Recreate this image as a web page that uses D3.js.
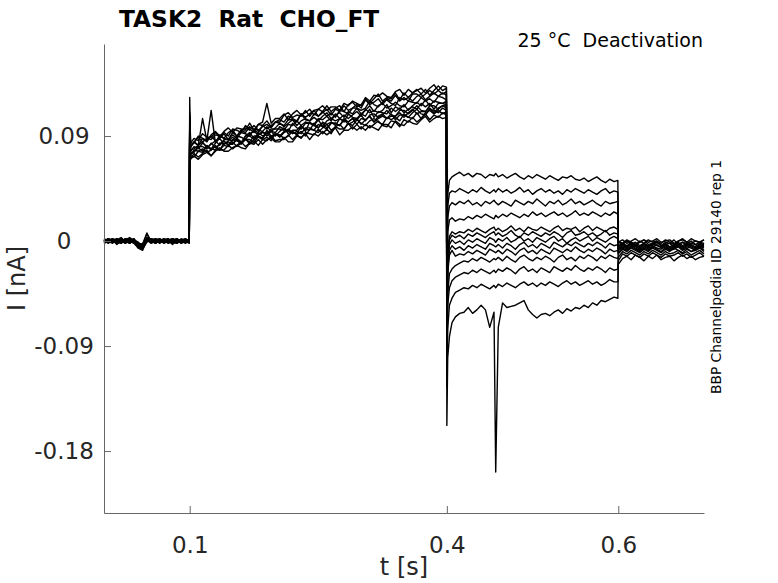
<!DOCTYPE html>
<html>
<head>
<meta charset="utf-8">
<script src="https://cdn.jsdelivr.net/npm/d3@7"></script>
<style>
  body { margin: 0; background: #fff; }
  svg { display: block; }
</style>
</head>
<body>
<svg id="chart" width="778" height="583"></svg>
<script>
// Sample times (s) for the four protocol segments
const timeHold = [0, 0.005, 0.01, 0.015, 0.02, 0.025, 0.03, 0.035, 0.04, 0.045,
  0.05, 0.055, 0.06, 0.065, 0.07, 0.075, 0.08, 0.085, 0.09, 0.095, 0.0995];
const timeStep = [0.1, 0.101,
  0.105, 0.11, 0.115, 0.12, 0.125, 0.13, 0.135, 0.14, 0.145, 0.15,
  0.155, 0.16, 0.165, 0.17, 0.175, 0.18, 0.185, 0.19, 0.195, 0.2,
  0.205, 0.21, 0.215, 0.22, 0.225, 0.23, 0.235, 0.24, 0.245, 0.25,
  0.255, 0.26, 0.265, 0.27, 0.275, 0.28, 0.285, 0.29, 0.295, 0.3,
  0.305, 0.31, 0.315, 0.32, 0.325, 0.33, 0.335, 0.34, 0.345, 0.35,
  0.355, 0.36, 0.365, 0.37, 0.375, 0.38, 0.385, 0.39, 0.395,
  0.3995];
const timeTail = [0.4, 0.401, 0.403, 0.406,
  0.41, 0.415, 0.42, 0.425, 0.43, 0.435, 0.44, 0.445, 0.45, 0.455,
  0.457,
  0.46, 0.465, 0.47, 0.475, 0.48, 0.485, 0.49, 0.495, 0.5, 0.505,
  0.51, 0.515, 0.52, 0.525, 0.53, 0.535, 0.54, 0.545, 0.55, 0.555,
  0.56, 0.565, 0.57, 0.575, 0.58, 0.585, 0.59, 0.595,
  0.5995];
const timeReturn = [0.6, 0.605, 0.61, 0.615, 0.62, 0.625, 0.63, 0.635, 0.64, 0.645,
  0.65, 0.655, 0.66, 0.665, 0.67, 0.675, 0.68, 0.685, 0.69, 0.695, 0.7];

// Currents in pA, one row per sweep (13 sweeps)
const holdCurrents = [
  [1, -1, 2, 0, -2, 1, 3, 0, -4, -6, 2, 1, -1, 0, 2, -2, 1, 0, -1, 2, 0],
  [-2, 0, 1, -3, 0, 2, -1, 1, -5, -3, 6, 0, -2, 1, -1, 0, -3, 1, 0, -2, 1],
  [0, 2, -1, 1, 3, -1, 0, -2, -6, -8, 1, 2, 0, -1, 1, 2, -1, -2, 1, 0, -1],
  [2, 0, -2, 2, 0, -1, 1, 2, -3, -5, 3, -1, 1, 2, 0, -1, 2, 0, 1, -1, 2],
  [-1, 1, 0, -1, 2, 0, -2, 1, -4, -4, 0, 1, 2, -1, 0, 1, 0, 2, -2, 1, 0],
  [1, -2, 1, 2, -1, 2, 0, -1, -2, -6, 1, -2, 0, 1, -2, 0, 1, -1, 2, 0, -2],
  [0, 1, -1, 0, 1, -2, 2, 0, -3, -2, 2, 0, 1, -2, 1, -1, 0, 1, -1, 1, 1],
  [-1, 0, 2, -2, -1, 1, -1, 2, -5, -7, -1, 1, -1, 0, 2, 1, -2, 0, 0, -1, 0],
  [2, -1, 0, 1, 0, -2, 1, -1, -2, -3, 7, -1, 2, 1, -1, 0, 2, -1, 1, 2, -1],
  [0, 2, 1, -1, 2, 0, -1, 1, -4, -5, 2, 0, -1, 1, 0, 2, -1, 1, -2, 0, 1],
  [-2, 1, -1, 0, -1, 1, 2, -2, -3, -6, 0, 2, 1, -1, 1, -1, 0, -2, 1, 1, -1],
  [1, 0, 2, -1, 1, 0, -2, 1, -1, -4, 1, -1, 0, 2, -1, 1, 2, 0, -1, -1, 2],
  [-1, 2, 0, 1, -2, 2, 1, -1, -6, -5, 3, 1, -2, 0, 1, -2, 1, 2, 0, 1, 0]
];

const stepCurrents = [
  [123, 82,
   84, 90, 88, 85, 91, 94, 90, 93, 90, 96,
   95, 93, 99, 96, 93, 100, 99, 103, 98, 102,
   102, 108, 110, 106, 108, 107, 112, 107, 112, 113,
   111, 116, 111, 114, 116, 111, 117, 119, 115, 117,
   122, 118, 122, 126, 120, 123, 122, 127, 121, 127,
   123, 127, 130, 126, 130, 125, 129, 133, 129,
   131],
  [104, 80,
   85, 82, 88, 86, 90, 86, 88, 92, 87, 93,
   90, 95, 93, 98, 95, 93, 99, 96, 99, 102,
   101, 99, 104, 104, 102, 109, 104, 103, 109, 107,
   111, 107, 110, 106, 112, 111, 109, 114, 114, 112,
   114, 120, 117, 115, 119, 121, 118, 116, 123, 121,
   123, 120, 124, 126, 121, 124, 127, 124, 127,
   125],
  [95, 74,
   77, 80, 77, 82, 79, 78, 84, 83, 85, 83,
   88, 85, 87, 85, 90, 90, 88, 95, 90, 92,
   90, 94, 96, 93, 92, 98, 96, 95, 101, 97,
   101, 97, 101, 101, 99, 105, 102, 105, 100, 105,
   104, 107, 102, 107, 109, 105, 107, 107, 110, 106,
   110, 113, 109, 111, 111, 114, 110, 114, 116,
   114],
  [100, 78,
   79, 82, 85, 80, 83, 86, 82, 87, 87, 86,
   90, 89, 87, 92, 94, 91, 93, 92, 96, 96,
   96, 95, 100, 99, 103, 99, 102, 101, 100, 105,
   104, 107, 103, 109, 105, 108, 105, 108, 111, 107,
   113, 110, 112, 110, 112, 117, 110, 115, 113, 117,
   112, 116, 119, 116, 121, 116, 120, 119, 118,
   120],
  [92, 71,
   75, 72, 75, 78, 73, 78, 78, 78, 82, 79,
   82, 85, 81, 84, 86, 82, 87, 86, 90, 86,
   87, 87, 91, 87, 91, 88, 93, 92, 91, 96,
   92, 96, 92, 98, 96, 96, 101, 96, 100, 96,
   100, 97, 100, 103, 99, 98, 103, 102, 98, 104,
   102, 106, 102, 105, 109, 104, 108, 106, 110,
   108],
  [108, 81,
   85, 82, 105, 86, 112, 84, 91, 88, 87, 91,
   88, 93, 92, 90, 96, 95, 94, 98, 94, 97,
   101, 98, 101, 104, 99, 103, 105, 103, 106, 103,
   107, 110, 105, 108, 110, 106, 111, 109, 114, 109,
   112, 116, 111, 116, 118, 114, 116, 119, 116, 115,
   120, 119, 118, 123, 120, 122, 119, 124, 123,
   121],
  [98, 75,
   76, 81, 81, 79, 84, 80, 83, 86, 82, 87,
   86, 84, 90, 90, 87, 93, 90, 92, 94, 90,
   94, 97, 92, 95, 95, 99, 94, 102, 99, 97,
   102, 100, 102, 99, 105, 103, 102, 105, 104, 108,
   103, 108, 109, 106, 108, 112, 108, 107, 112, 112,
   109, 112, 116, 112, 111, 116, 116, 113, 116,
   117],
  [110, 84,
   88, 86, 92, 89, 89, 93, 89, 94, 97, 93,
   97, 96, 95, 101, 95, 100, 102, 118, 101, 105,
   105, 109, 104, 109, 112, 108, 110, 113, 108, 113,
   116, 112, 115, 115, 112, 118, 116, 120, 118, 116,
   123, 120, 125, 124, 127, 124, 123, 128, 130, 125,
   130, 127, 129, 131, 127, 131, 134, 129, 133,
   132],
  [94, 73,
   72, 77, 79, 76, 78, 82, 78, 82, 81, 85,
   81, 84, 88, 83, 87, 89, 87, 89, 86, 92,
   91, 88, 90, 94, 91, 94, 90, 96, 95, 93,
   97, 100, 95, 98, 100, 96, 101, 99, 104, 101,
   99, 103, 105, 102, 100, 106, 104, 106, 103, 109,
   106, 105, 110, 105, 110, 112, 109, 112, 109,
   111],
  [101, 77,
   81, 79, 84, 81, 79, 84, 88, 83, 86, 89,
   86, 84, 90, 93, 88, 91, 94, 90, 94, 93,
   98, 96, 94, 101, 97, 96, 101, 101, 99, 104,
   98, 103, 105, 103, 105, 102, 109, 106, 105, 109,
   107, 113, 106, 111, 110, 109, 114, 111, 114, 110,
   113, 115, 113, 118, 115, 118, 113, 118, 118,
   117],
  [106, 82,
   85, 89, 85, 88, 87, 91, 90, 88, 93, 95,
   90, 95, 97, 95, 99, 95, 98, 100, 97, 102,
   104, 102, 107, 105, 103, 109, 106, 109, 112, 107,
   110, 113, 108, 113, 111, 116, 112, 114, 117, 114,
   121, 117, 119, 122, 117, 122, 120, 125, 120, 123,
   120, 126, 126, 123, 126, 129, 126, 129, 126,
   128],
  [90, 70,
   73, 70, 74, 76, 73, 77, 80, 77, 77, 80,
   82, 80, 79, 84, 83, 87, 83, 87, 88, 85,
   85, 89, 85, 85, 90, 89, 92, 87, 92, 90,
   94, 91, 94, 97, 91, 95, 95, 98, 95, 98,
   95, 99, 97, 95, 100, 100, 97, 103, 100, 99,
   103, 101, 100, 104, 107, 102, 105, 107, 105,
   106],
  [96, 74,
   78, 77, 76, 81, 78, 81, 78, 84, 83, 83,
   87, 83, 87, 87, 84, 90, 88, 93, 88, 92,
   89, 93, 95, 92, 94, 92, 97, 97, 95, 100,
   98, 96, 101, 101, 99, 104, 100, 102, 105, 100,
   104, 107, 102, 105, 107, 105, 109, 104, 108, 108,
   106, 110, 113, 109, 108, 113, 112, 110, 114,
   112]
];

const tailCurrents = [
  [-40, 40, 52, 55,
   57, 59, 56, 58, 55, 58, 57, 54, 57, 56,
   58,
   55, 57, 54, 56, 58, 55, 53, 56, 54, 57,
   55, 53, 56, 54, 52, 55, 54, 56, 53, 52,
   54, 51, 53, 55, 52, 50, 53, 51,
   52],
  [-50, 30, 41, 43,
   42, 45, 43, 41, 44, 42, 46, 43, 41, 44,
   42,
   45, 42, 44, 41, 43, 46, 42, 44, 40, 43,
   45, 42, 44, 41, 43, 40, 44, 42, 45, 43,
   41, 44, 42, 40, 43, 45, 41, 43,
   42],
  [-60, 20, 30, 33,
   31, 34, 32, 35, 31, 33, 30, 34, 32, 35,
   33,
   31, 34, 32, 30, 35, 33, 31, 34, 32, 36,
   33, 30, 34, 32, 35, 31, 33, 36, 32, 34,
   31, 33, 35, 32, 30, 34, 32, 33,
   34],
  [-70, 8, 18, 20,
   17, 19, 18, 21, 19, 22, 20, 23, 21, 19,
   22,
   20, 23, 21, 24, 22, 20, 23, 21, 25, 22,
   24, 21, 23, 25, 22, 24, 21, 23, 26, 22,
   24, 22, 25, 23, 21, 24, 22, 25,
   23],
  [-80, -10, 4, 8,
   6, 8, 7, 10, 8, 11, 9, 7, 10, 12,
   9,
   11, 8, 10, 13, 9, 11, 8, 12, 10, 9,
   12, 10, 8, 11, 13, 9, 11, 10, 12, 8,
   11, 13, 9, 12, 10, 8, 11, 12,
   10],
  [-85, -14, 1, 5,
   3, 5, 2, 6, 4, 7, 5, 3, 6, 8,
   5,
   7, 4, 6, 9, 5, 3, 7, 5, 8, 6,
   4, 7, 5, 8, 6, 3, 7, 9, 5, 6,
   8, 5, 7, 4, 6, 9, 5, 7,
   6],
  [-90, -18, -3, 1,
   -2, 0, -3, 1, -1, 2, 0, -2, 3, 1,
   -1,
   2, 0, 3, -1, 1, 4, 0, 2, -1, 3,
   1, -1, 2, 4, 0, 2, -2, 1, 3, 0,
   2, 4, 0, 3, 1, -1, 2, 4,
   2],
  [-95, -24, -8, -4,
   -7, -5, -8, -4, -6, -3, -5, -7, -2, -4,
   -5,
   -3, -6, -2, -4, -7, -3, -1, -5, -3, -6,
   -2, -4, -6, -1, -3, -5, -2, -4, -1, -3,
   -5, -2, -4, -1, -3, -6, -2, -4,
   -3],
  [-100, -28, -12, -8,
   -13, -11, -12, -9, -11, -8, -10, -12, -7, -9,
   -10,
   -8, -11, -7, -9, -12, -8, -6, -10, -8, -11,
   -7, -9, -11, -6, -8, -10, -7, -9, -5, -8,
   -10, -7, -9, -6, -8, -11, -7, -9,
   -8],
  [-110, -45, -28, -24,
   -21, -19, -17, -18, -15, -17, -14, -16, -18, -15,
   -16,
   -14, -17, -13, -16, -18, -14, -12, -15, -17, -14,
   -16, -13, -15, -18, -14, -12, -16, -14, -17, -13,
   -15, -12, -14, -17, -13, -15, -12, -14,
   -15],
  [-115, -55, -40, -34,
   -31, -29, -27, -28, -25, -27, -24, -26, -28, -25,
   -27,
   -24, -26, -23, -25, -28, -24, -22, -26, -24, -27,
   -23, -25, -27, -22, -24, -26, -23, -25, -21, -24,
   -26, -23, -25, -22, -24, -27, -23, -25,
   -24],
  [-125, -75, -55, -49,
   -44, -42, -40, -41, -38, -40, -37, -39, -41, -38,
   -40,
   -37, -39, -36, -38, -40, -37, -35, -38, -36, -39,
   -36, -38, -35, -37, -39, -36, -34, -37, -35, -38,
   -36, -34, -37, -35, -38, -36, -33, -35,
   -35],
  [-158, -100, -82, -70,
   -65, -62, -61, -57, -62, -59, -55, -59, -74, -61,
   -198,
   -74, -53, -57, -56, -55, -53, -51, -59, -63, -66,
   -63, -62, -64, -61, -59, -62, -58, -60, -57, -58,
   -55, -57, -53, -55, -51, -52, -50, -48,
   -49]
];

const returnCurrents = [
  [-1, -3, 0, -2, -4, -1, 1, -3, -2, 0, -4, -1, -2, 1, -3, -1, -2, 0, -3, -1, -2],
  [-6, -3, -5, -2, -4, -6, -3, -5, -2, -4, -5, -3, -6, -4, -2, -5, -3, -4, -6, -3, -4],
  [0, -2, 1, -1, -3, 0, -2, 1, -1, 0, -2, 1, -1, -3, 0, 2, -1, -2, 0, -1, 1],
  [-8, -5, -7, -4, -6, -8, -5, -7, -4, -6, -7, -5, -8, -6, -4, -7, -5, -6, -8, -5, -6],
  [-4, -2, -5, -3, -1, -4, -2, -5, -3, -1, -4, -3, -2, -5, -3, -1, -4, -2, -3, -5, -2],
  [-11, -7, -9, -6, -8, -10, -7, -9, -6, -8, -10, -7, -9, -6, -8, -10, -7, -9, -8, -6, -9],
  [-1, 1, -2, 0, 2, -1, 1, -1, 0, 2, -1, 0, 1, -2, 0, 1, -1, 2, 0, -1, 1],
  [-7, -4, -6, -3, -5, -7, -4, -6, -5, -3, -6, -4, -7, -5, -3, -6, -4, -5, -7, -4, -5],
  [-10, -6, -8, -5, -7, -9, -6, -8, -5, -7, -9, -6, -8, -7, -5, -8, -6, -9, -7, -5, -8],
  [-14, -9, -11, -8, -10, -12, -9, -11, -8, -10, -12, -9, -11, -10, -8, -11, -9, -12, -10, -8, -11],
  [-5, -2, -4, -1, -3, -5, -2, -4, -3, -1, -4, -2, -5, -3, -1, -4, -2, -3, -5, -2, -3],
  [-17, -11, -13, -10, -12, -14, -11, -13, -10, -12, -14, -11, -13, -12, -10, -13, -11, -14, -12, -10, -13],
  [-20, -15, -13, -16, -12, -14, -17, -13, -15, -12, -16, -14, -13, -17, -14, -12, -15, -13, -16, -14, -13]
];

// Axis ticks and labels
const xTicks = [0.1, 0.4, 0.6];
const xTickLabels = ["0.1", "0.4", "0.6"];
const yTicks = [-0.18, -0.09, 0, 0.09];
const yTickLabels = ["-0.18", "-0.09", "0", "0.09"];

const titleText = "TASK2\u00a0\u00a0Rat\u00a0\u00a0CHO_FT";
const conditionText = "25 \u00b0C\u00a0\u00a0Deactivation";
const sourceText = "BBP Channelpedia ID 29140 rep 1";

// Layout
const width = 778, height = 583;
const plot = { left: 104, right: 704, top: 44, bottom: 513 };
const font_family = "'DejaVu Sans', sans-serif";
const label_color = "#262626";
const axis_color = "#666";

const svg = d3.select("#chart")
    .attr("width", width)
    .attr("height", height);

// Scales (time in s, current in nA)
const xScale = d3.scaleLinear()
    .domain([0, 0.7])
    .range([plot.left, plot.right]);

const yScale = d3.scaleLinear()
    .domain([-0.2331, 0.1689])
    .range([plot.bottom, plot.top]);

// Join the four segments into one sweep per row
const segments = [
    [timeHold, holdCurrents],
    [timeStep, stepCurrents],
    [timeTail, tailCurrents],
    [timeReturn, returnCurrents]
];

const sweeps = d3.range(holdCurrents.length).map(i =>
    segments.flatMap(([times, currents]) => {
        const row = currents[i];
        if (row.length !== times.length) console.warn("length mismatch", i, row.length, times.length);
        return times.slice(0, row.length).map((t, j) => ({ t: t, current: row[j] / 1000 }));
    })
);

// Traces
const line = d3.line()
    .x(d => xScale(d.t))
    .y(d => yScale(d.current));

svg.append("g")
    .attr("class", "sweeps")
    .selectAll("path")
    .data(sweeps)
    .join("path")
    .attr("d", line)
    .attr("fill", "none")
    .attr("stroke", "#000")
    .attr("stroke-width", 1.4)
    .attr("stroke-linejoin", "round");

// Y axis (ticks inside)
const yAxis = svg.append("g")
    .attr("transform", `translate(${plot.left}, 0)`)
    .call(d3.axisLeft(yScale)
        .tickValues(yTicks)
        .tickFormat((d, i) => yTickLabels[i])
        .tickSizeInner(-7)
        .tickSizeOuter(0));

yAxis.select(".domain").attr("stroke", axis_color);
yAxis.selectAll(".tick line").attr("stroke", axis_color);
yAxis.selectAll(".tick text")
    .attr("x", -40)
    .attr("text-anchor", "middle")
    .attr("fill", label_color)
    .style("font-family", font_family)
    .style("font-size", "23px");

// X axis (ticks inside)
const xAxis = svg.append("g")
    .attr("transform", `translate(0, ${plot.bottom})`)
    .call(d3.axisBottom(xScale)
        .tickValues(xTicks)
        .tickFormat((d, i) => xTickLabels[i])
        .tickSizeInner(-7)
        .tickSizeOuter(0));

xAxis.select(".domain").attr("stroke", axis_color);
xAxis.selectAll(".tick line").attr("stroke", axis_color);
xAxis.selectAll(".tick text")
    .attr("y", 40)
    .attr("dy", 0)
    .attr("fill", label_color)
    .style("font-family", font_family)
    .style("font-size", "23px");

// Axis labels
svg.append("text")
    .attr("x", (plot.left + plot.right) / 2)
    .attr("y", 575)
    .attr("text-anchor", "middle")
    .attr("fill", label_color)
    .style("font-family", font_family)
    .style("font-size", "24px")
    .text("t [s]");

svg.append("text")
    .attr("transform", `translate(25, ${(plot.top + plot.bottom) / 2}) rotate(-90)`)
    .attr("text-anchor", "middle")
    .attr("fill", label_color)
    .style("font-family", font_family)
    .style("font-size", "24px")
    .text("I [nA]");

// Title and annotations
svg.append("text")
    .attr("x", 119)
    .attr("y", 27)
    .attr("fill", "#000")
    .style("font-family", font_family)
    .style("font-size", "23.3px")
    .style("font-weight", "bold")
    .text(titleText);

svg.append("text")
    .attr("x", 703)
    .attr("y", 47)
    .attr("text-anchor", "end")
    .attr("fill", "#000")
    .style("font-family", font_family)
    .style("font-size", "19px")
    .text(conditionText);

svg.append("text")
    .attr("transform", `translate(721, 277) rotate(-90)`)
    .attr("text-anchor", "middle")
    .attr("fill", "#000")
    .style("font-family", font_family)
    .style("font-size", "13.8px")
    .text(sourceText);
</script>
</body>
</html>
